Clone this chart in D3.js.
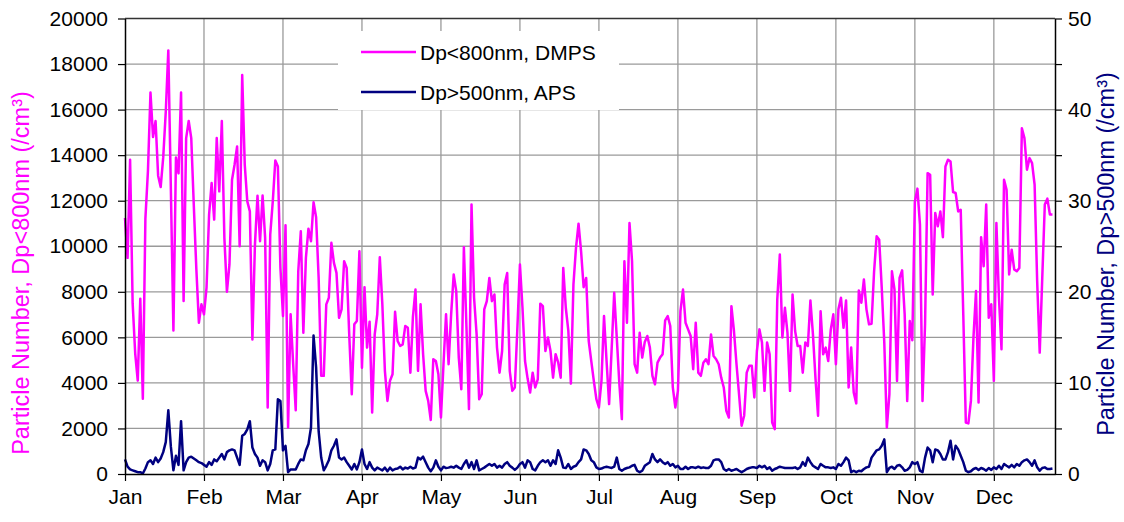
<!DOCTYPE html>
<html>
<head>
<meta charset="utf-8">
<script src="https://cdn.jsdelivr.net/npm/d3@7"></script>
<style>
  body { margin: 0; background: #fff; }
  text { font-family: Arial, "Liberation Sans", sans-serif; }
</style>
</head>
<body>
<svg id="chart" width="1124" height="522"></svg>
<script>
// Month labels, one every 31 daily categories
const monthLabels = ["Jan", "Feb", "Mar", "Apr", "May", "Jun", "Jul", "Aug", "Sep", "Oct", "Nov", "Dec"];
const leftTicks = [0, 2000, 4000, 6000, 8000, 10000, 12000, 14000, 16000, 18000, 20000];
const rightTicks = [0, 5, 10, 15, 20, 25, 30, 35, 40, 45, 50];
const rightLabels = [0, 10, 20, 30, 40, 50];

// Daily particle number, Dp<800nm (DMPS), /cm3
const dmps = [
  11240, 9490, 13800, 7500, 5300, 4100, 7700, 3300, 11200, 13300, 16750, 14800, 15500, 13100, 12600, 13900, 15900, 18600, 12500, 6300, 13900, 13200, 16750, 7600, 14750, 15500, 14750, 11800, 9000, 6640, 7450,
  7010, 8180, 11390, 12775, 11170, 14750, 12410, 15500, 10370, 8000, 9200, 12920, 13580, 14380, 10000, 17520, 13580, 11970, 11530, 5910, 10070, 12220, 10220, 12230, 10370, 2920, 10510, 11970, 13770, 13500, 9050,
  6935, 10920, 2040, 7010, 4820, 2800, 8900, 10660, 6200, 9490, 10770, 10220, 11930, 11270, 8610, 4310, 4310, 7450, 7740, 10150, 9270, 8830, 6860, 7230, 9340, 9050, 6130, 3500, 6570, 6720, 9780,
  4670, 8205, 5550, 6690, 2700, 6130, 7010, 9520, 7450, 4530, 3210, 4090, 4380, 7120, 5840, 5620, 5690, 6500, 6420, 4450, 6900, 8100, 4530, 7450, 5260, 3650, 3210, 2370, 5040, 4960, 4380,
  2480, 4820, 7010, 4820, 7010, 8760, 8030, 5110, 3720, 9960, 6500, 2850, 11830, 7740, 6130, 3285, 3500, 7230, 7590, 8610, 7590, 7880, 5550, 4450, 5400, 8320, 8830, 4530, 3650, 3800, 6420,
  9200, 7300, 4960, 4200, 3580, 4450, 3800, 4160, 7480, 7370, 5400, 5990, 5400, 4230, 5260, 4900, 4230, 9050, 7300, 6280, 3970, 8320, 9930, 10990, 9780, 8200, 8610, 5840, 4960, 4090, 3285,
  2920, 4090, 6935, 4960, 3070, 5500, 7960, 6000, 4000, 2410, 9340, 6640, 11020, 9340, 4820, 4450, 6200, 5110, 5800, 6060, 5550, 4310, 3940, 4890, 5110, 5260, 6745, 6935, 6500, 3800, 2920,
  3650, 7150, 8100, 6640, 6350, 6060, 4600, 6640, 4450, 4310, 4890, 5040, 4820, 6130, 5180, 5040, 4820, 4230, 3800, 2770, 2480, 7370, 6280, 4820, 3500, 2120, 2560, 4450, 4750, 4750, 3360,
  5400, 6350, 5770, 3650, 5770, 5260, 2260, 1970, 7670, 9640, 5990, 7300, 6200, 3650, 7880, 6280, 5620, 5620, 4450, 5770, 5620, 7620, 6130, 4200, 2560, 7150, 5260, 5550, 4960, 6350, 7010,
  4820, 7230, 7740, 6420, 7620, 3800, 5550, 3580, 3100, 8060, 7520, 8540, 7230, 6570, 6600, 8900, 10440, 10290, 8180, 5770, 2040, 3500, 8900, 8100, 4090, 8610, 8940, 7010, 3210, 6720, 5870,
  11970, 12530, 10950, 3210, 6570, 13210, 13140, 7880, 11460, 10880, 11530, 10400, 13500, 13800, 13720, 12380, 12340, 11530, 11600, 7000, 2260, 2220, 3210, 6000, 8030, 3140, 10400, 9120, 11830, 6860, 7450,
  4090, 11020, 7740, 5480, 12920, 12480, 8760, 9850, 8980, 8900, 9050, 15180, 14750, 13360, 13870, 13650, 12700, 8470, 5330, 8610, 11830, 12090, 11390, 11390
];

// Daily particle number, Dp>500nm (APS), /cm3
const aps = [
  1.6, 0.8, 0.5, 0.4, 0.3, 0.2, 0.2, 0.05, 0.6, 1.3, 1.5, 1.1, 1.8, 1.3, 1.7, 2.4, 3.5, 7.0, 3.0, 0.4, 2.0, 1.0, 5.8, 0.4, 1.3, 1.8, 1.9, 1.7, 1.5, 1.3, 1.2,
  1.0, 0.8, 1.3, 1.0, 1.6, 1.4, 1.8, 2.2, 1.6, 2.4, 2.6, 2.7, 2.6, 1.8, 1.0, 4.2, 4.4, 4.9, 5.8, 2.9, 2.2, 1.8, 0.9, 1.5, 1.3, 0.4, 1.1, 2.6, 2.7, 8.2, 8.0,
  2.6, 3.1, 0.2, 0.5, 0.5, 0.5, 1.1, 1.6, 1.5, 2.6, 3.3, 5.1, 15.2, 11.7, 4.7, 1.8, 0.4, 0.9, 1.5, 2.6, 3.1, 3.8, 1.8, 1.6, 1.8, 1.3, 0.9, 0.5, 1.1, 0.5, 1.3,
  2.7, 1.1, 0.55, 1.3, 0.7, 0.4, 0.7, 0.55, 0.4, 0.7, 0.3, 0.7, 0.4, 0.55, 0.6, 0.8, 0.5, 0.7, 0.6, 0.8, 0.6, 0.7, 1.8, 1.6, 1.9, 1.3, 0.7, 0.3, 0.7, 1.5, 0.8,
  0.4, 0.8, 0.65, 0.7, 0.8, 0.7, 0.9, 0.7, 0.55, 1.1, 1.5, 0.7, 1.3, 0.55, 1.5, 0.4, 0.55, 0.7, 0.9, 1.1, 0.9, 1.1, 0.7, 0.9, 0.7, 1.1, 1.3, 0.9, 0.7, 0.45, 0.7,
  1.1, 1.3, 0.7, 1.5, 1.3, 0.55, 0.4, 0.9, 1.3, 1.5, 1.3, 1.5, 0.9, 1.5, 1.1, 2.6, 1.8, 0.7, 0.65, 1.1, 0.55, 0.8, 0.9, 1.3, 1.6, 2.7, 2.6, 2.2, 1.5, 1.3, 0.73,
  0.55, 0.6, 0.73, 0.8, 0.73, 0.66, 0.8, 1.8, 0.55, 0.36, 0.55, 0.66, 0.73, 0.9, 1.0, 0.36, 0.2, 0.36, 0.9, 1.1, 1.3, 2.2, 1.6, 1.3, 1.6, 1.3, 1.1, 1.3, 0.9, 1.1, 0.73,
  0.9, 0.55, 0.55, 0.8, 0.55, 0.73, 0.73, 0.66, 0.8, 0.66, 0.73, 0.66, 0.66, 0.9, 1.5, 1.6, 1.6, 1.3, 0.55, 0.36, 0.55, 0.36, 0.45, 0.55, 0.36, 0.2, 0.36, 0.55, 0.66, 0.73, 0.73,
  0.66, 0.9, 0.73, 0.9, 0.55, 0.73, 0.36, 0.55, 0.66, 0.8, 0.73, 0.66, 0.66, 0.66, 0.66, 0.73, 0.55, 0.73, 1.3, 0.9, 1.8, 1.3, 0.9, 0.73, 0.55, 1.1, 0.9, 0.73, 0.73, 0.66, 0.73,
  0.55, 1.1, 0.9, 1.3, 1.8, 1.5, 0.2, 0.36, 0.2, 0.36, 0.3, 0.55, 0.73, 0.8, 1.8, 2.2, 2.6, 2.7, 3.1, 3.8, 0.2, 0.66, 0.8, 0.55, 0.9, 1.0, 0.73, 0.36, 0.45, 0.73, 1.3,
  1.1, 1.3, 0.36, 0.2, 1.8, 2.9, 2.6, 1.3, 2.7, 2.6, 2.2, 1.6, 1.6, 2.4, 3.65, 1.6, 3.1, 2.7, 2.0, 1.3, 0.36, 0.2, 0.3, 0.55, 0.66, 0.45, 0.66, 0.55, 0.36, 0.66, 0.45,
  0.73, 0.55, 0.9, 0.55, 1.1, 0.9, 0.73, 1.0, 0.73, 1.1, 0.9, 1.3, 1.5, 1.6, 1.3, 0.9, 1.5, 0.73, 0.36, 0.66, 0.73, 0.55, 0.55, 0.6
];

const seriesNames = ["Dp<800nm, DMPS", "Dp>500nm, APS"];
const seriesColors = ["#FF00FF", "#000080"];

const plot = { left: 125, right: 1055, top: 18.5, bottom: 474 };
const categoriesPerTick = 31;
const categoryCount = 366;

const svg = d3.select("#chart");

const x = d3.scaleLinear().domain([0, categoryCount - 1]).range([plot.left, plot.right]);
const yL = d3.scaleLinear().domain([0, 20000]).range([plot.bottom, plot.top]);
const yR = d3.scaleLinear().domain([0, 50]).range([plot.bottom, plot.top]);

const monthTicks = monthLabels.map((m, i) => i * categoriesPerTick);

// Gridlines
const grid = svg.append("g").attr("stroke", "#9a9a9a").attr("stroke-width", 1.3);
grid.selectAll("line.h").data(leftTicks.filter(d => d > 0 && d < 20000)).join("line")
  .attr("x1", plot.left).attr("x2", plot.right)
  .attr("y1", d => yL(d)).attr("y2", d => yL(d));
grid.selectAll("line.v").data(monthTicks.filter(d => d > 0)).join("line")
  .attr("x1", d => x(d)).attr("x2", d => x(d))
  .attr("y1", plot.top).attr("y2", plot.bottom);

// Legend background hides the grid behind it
svg.append("rect").attr("x", 338).attr("y", 31).attr("width", 281).attr("height", 79).attr("fill", "#fff");

// Series lines
const lineL = d3.line().x((d, i) => x(i)).y(d => yL(d));
const lineR = d3.line().x((d, i) => x(i)).y(d => yR(d));
svg.append("path").datum(dmps).attr("d", lineL)
  .attr("fill", "none").attr("stroke", seriesColors[0]).attr("stroke-width", 2.5).attr("stroke-linejoin", "round");
svg.append("path").datum(aps).attr("d", lineR)
  .attr("fill", "none").attr("stroke", seriesColors[1]).attr("stroke-width", 2.5).attr("stroke-linejoin", "round");

// Plot frame (top edge)
svg.append("line").attr("x1", plot.left).attr("x2", plot.right).attr("y1", plot.top).attr("y2", plot.top)
  .attr("stroke", "#333").attr("stroke-width", 1.5);

// Axes
function styleAxis(g) {
  g.selectAll("path.domain").attr("stroke", "#000").attr("stroke-width", 1.5);
  g.selectAll(".tick line").attr("stroke", "#000").attr("stroke-width", 1.2);
  g.selectAll(".tick text").attr("fill", "#000").style("font-size", "21px");
}

svg.append("g").attr("transform", `translate(${plot.left},0)`)
  .call(d3.axisLeft(yL).tickValues(leftTicks).tickSize(7).tickSizeOuter(0).tickPadding(10).tickFormat(d3.format("d")))
  .call(styleAxis);

svg.append("g").attr("transform", `translate(${plot.right},0)`)
  .call(d3.axisRight(yR).tickValues(rightTicks).tickSize(7).tickSizeOuter(0).tickPadding(6)
    .tickFormat(d => rightLabels.includes(d) ? d : ""))
  .call(styleAxis);

svg.append("g").attr("transform", `translate(0,${plot.bottom})`)
  .call(d3.axisBottom(x).tickValues(monthTicks).tickSize(7).tickSizeOuter(0).tickPadding(8)
    .tickFormat((d, i) => monthLabels[i]))
  .call(styleAxis);

// Axis titles
svg.append("text")
  .attr("transform", "translate(29,273) rotate(-90)")
  .attr("text-anchor", "middle").attr("fill", seriesColors[0]).style("font-size", "23.5px")
  .text("Particle Number, Dp<800nm (/cm³)");
svg.append("text")
  .attr("transform", "translate(1114,254) rotate(-90)")
  .attr("text-anchor", "middle").attr("fill", seriesColors[1]).style("font-size", "23.5px")
  .text("Particle Number, Dp>500nm (/cm³)");

// Legend
const legend = svg.append("g");
seriesNames.forEach((name, i) => {
  const ly = 52 + i * 40;
  legend.append("line").attr("x1", 361).attr("x2", 416).attr("y1", ly).attr("y2", ly)
    .attr("stroke", seriesColors[i]).attr("stroke-width", 2.5);
  legend.append("text").attr("x", 420).attr("y", ly + 7.5).attr("fill", "#000").style("font-size", "21px").text(name);
});
</script>
</body>
</html>
